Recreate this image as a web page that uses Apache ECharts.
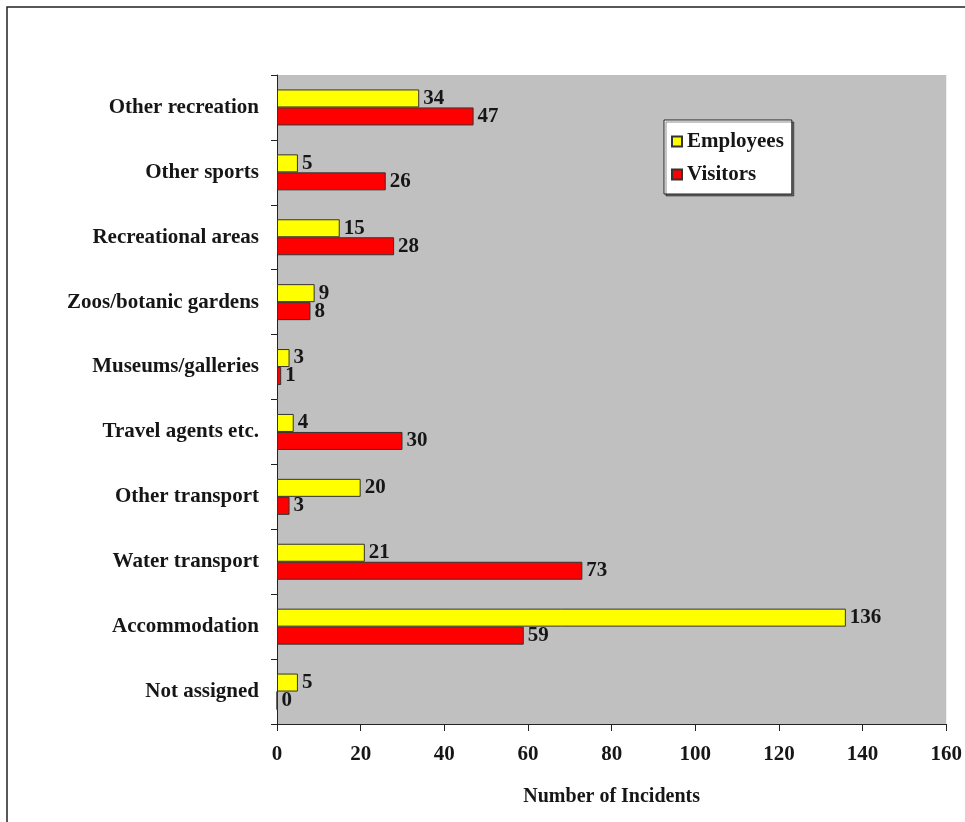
<!DOCTYPE html>
<html>
<head>
<meta charset="utf-8">
<style>
  html, body { margin: 0; padding: 0; background: #ffffff; }
  #chart { width: 965px; height: 822px; }
</style>
<script src="https://cdn.jsdelivr.net/npm/echarts@6/dist/echarts.min.js"></script>
</head>
<body>
<div id="chart"></div>
<script>
// Incident counts by industry sector, listed top to bottom
const categories = [
  'Other recreation',
  'Other sports',
  'Recreational areas',
  'Zoos/botanic gardens',
  'Museums/galleries',
  'Travel agents etc.',
  'Other transport',
  'Water transport',
  'Accommodation',
  'Not assigned'
];
const employees = [34, 5, 15, 9, 3, 4, 20, 21, 136, 5];
const visitors  = [47, 26, 28, 8, 1, 30, 3, 73, 59, 0];
const xTicks = { min: 0, max: 160, interval: 20 };

const serif = '"Liberation Serif", "Times New Roman", serif';
const ink = '#161616';

const chart = echarts.init(document.getElementById('chart'), null, { renderer: 'canvas' });

const valueLabel = {
  show: true,
  position: 'right',
  distance: 4,
  fontFamily: serif,
  fontWeight: 'bold',
  fontSize: 21,
  color: ink
};

chart.setOption({
  animation: false,
  backgroundColor: '#ffffff',
  graphic: [{
    type: 'rect',
    shape: { x: 7, y: 7, width: 1100, height: 1100 },
    style: { fill: 'none', stroke: '#222', lineWidth: 1.5 },
    silent: true,
    z: 0
  }],
  grid: {
    left: 277, top: 75, right: 16, bottom: 98,
    show: true,
    backgroundColor: '#c0c0c0',
    borderWidth: 0
  },
  legend: {
    orient: 'vertical',
    left: 664,
    top: 120,
    backgroundColor: '#ffffff',
    borderColor: '#222',
    borderWidth: 1,
    shadowColor: 'rgba(0,0,0,0.45)',
    shadowOffsetX: 2,
    shadowOffsetY: 2,
    padding: [11, 8, 9, 7],
    itemGap: 12,
    itemWidth: 10,
    itemHeight: 10,
    icon: 'rect',
    textStyle: { fontFamily: serif, fontWeight: 'bold', fontSize: 21, color: ink },
    data: ['Employees', 'Visitors']
  },
  xAxis: {
    type: 'value',
    min: xTicks.min,
    max: xTicks.max,
    interval: xTicks.interval,
    name: 'Number of Incidents',
    nameLocation: 'middle',
    nameGap: 63,
    nameTextStyle: { fontFamily: serif, fontWeight: 'bold', fontSize: 20, color: ink },
    axisLine: { show: true, lineStyle: { color: '#222', width: 1 } },
    axisTick: { show: true, length: 7, lineStyle: { color: '#222' } },
    axisLabel: { fontFamily: serif, fontWeight: 'bold', fontSize: 21, color: ink, margin: 20 },
    splitLine: { show: false }
  },
  yAxis: {
    type: 'category',
    inverse: true,
    data: categories,
    axisLine: { show: true, lineStyle: { color: '#222', width: 1 } },
    axisTick: { show: true, length: 6, lineStyle: { color: '#222' } },
    axisLabel: { fontFamily: serif, fontWeight: 'bold', fontSize: 21, color: ink, margin: 18 },
    splitLine: { show: false }
  },
  series: [
    {
      name: 'Employees',
      type: 'bar',
      data: employees,
      barWidth: 18,
      barGap: '0%',
      itemStyle: { color: '#ffff00', borderColor: '#333', borderWidth: 1 },
      label: valueLabel
    },
    {
      name: 'Visitors',
      type: 'bar',
      data: visitors,
      barWidth: 18,
      barGap: '0%',
      itemStyle: { color: '#ff0000', borderColor: '#333', borderWidth: 1 },
      label: valueLabel
    }
  ]
});
</script>
</body>
</html>
